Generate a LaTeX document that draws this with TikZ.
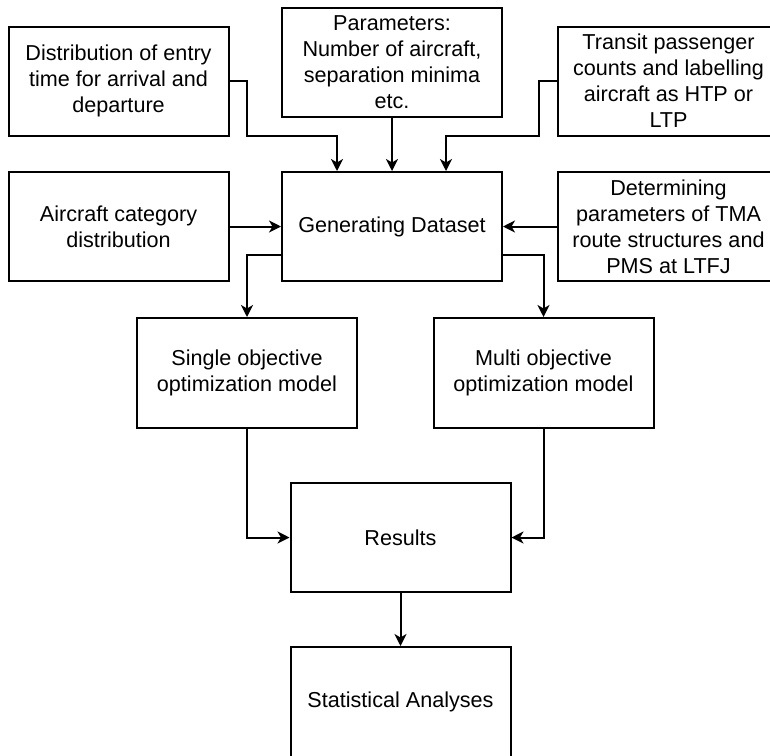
\documentclass[tikz,border=0pt]{standalone}
\usepackage{fontspec}
\setmainfont{Liberation Sans}
\usetikzlibrary{arrows.meta,calc}
\begin{document}
\begin{tikzpicture}[x=1pt,y=-1pt,
  box/.style={draw=black,line width=2pt,minimum width=220pt,minimum height=109pt,
    inner sep=2pt,align=center,font=\fontsize{21.6pt}{26pt}\selectfont},
  arr/.style={line width=2pt,-{Stealth[length=12pt,width=12pt,inset=3.5pt]}}]
\useasboundingbox (0,0) rectangle (770,755);
\clip (0,0) rectangle (770,755);
\node[box] (b1) at (118.5,81) {Distribution of entry\\time for arrival and\\departure};
\node[box] (b2) at (392,62.5) {Parameters:\\Number of aircraft,\\separation minima\\etc.};
\node[box,minimum width=221pt] (b3) at (668.5,81) {Transit passenger\\counts and labelling\\aircraft as HTP or\\LTP};
\node[box] (b4) at (118.5,226.5) {Aircraft category\\distribution};
\node[box] (b5) at (392,226.5) {Generating Dataset};
\node[box,minimum width=221pt] (b6) at (668.5,226.5) {Determining\\parameters of TMA\\route structures and\\PMS at LTFJ};
\node[box,minimum height=110pt] (b7) at (247,373) {Single objective\\optimization model};
\node[box,minimum height=110pt] (b8) at (543.5,373) {Multi objective\\optimization model};
\node[box] (b9) at (400.5,537.5) {Results};
\node[box,minimum height=110pt] (b10) at (400.5,702) {Statistical Analyses};
\coordinate (k1) at (247,136);
\coordinate (k3) at (539,136);
\draw[arr] (b1.east) -| (k1) -| ([xshift=-55pt]b5.north);
\draw[arr] (b2.south) -- (b5.north);
\draw[arr] (b3.west) -| (k3) -| ([xshift=54pt]b5.north);
\draw[arr] (b4.east) -- (b5.west);
\draw[arr] (b6.west) -- (b5.east);
\draw[arr] ([yshift=-28.5pt]b5.west) -| (b7.north);
\draw[arr] ([yshift=-28.5pt]b5.east) -| (b8.north);
\draw[arr] (b7.south) |- (b9.west);
\draw[arr] (b8.south) |- (b9.east);
\draw[arr] (b9.south) -- (b10.north);
\end{tikzpicture}
\end{document}
